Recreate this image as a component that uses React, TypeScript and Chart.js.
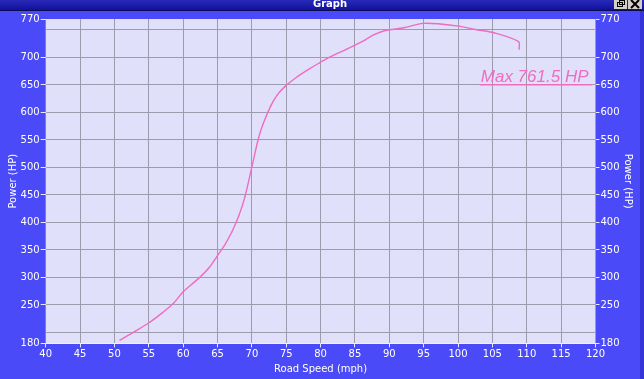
import React, { useEffect, useRef } from "react";
import { Chart, registerables } from "chart.js";

Chart.register(...registerables);

const speedMph = [50.8, 53.0, 55.2, 57.0, 58.6, 60.0, 61.3, 62.5, 63.8, 64.9, 66.0, 67.1, 68.1, 69.0, 70.0, 70.9, 71.6, 72.75, 73.7, 74.8, 76.5, 78.2, 79.8, 81.4, 83.8, 86.5, 87.7, 89.4, 92.1, 94.9, 97.4, 100.1, 102.5, 105.2, 108.8, 108.9];
const powerHp = [186, 202, 219, 236, 253, 274, 288, 301, 318, 338, 358, 383, 412, 447, 501, 550, 578, 612, 632, 647, 664, 678, 690, 701, 715, 732, 741, 749, 754, 762, 761, 757, 751, 745, 729, 715];
const yTicks = [180, 200, 250, 300, 350, 400, 450, 500, 550, 600, 650, 700, 750, 770];
const yHiddenLabels = [200, 750];
const xMin = 40;
const xMax = 120;
const maxLabel = "Max 761.5 HP";

const BLUE = "#4a4af8";
const PLOT_BG = "#e0e0fa";
const GRID = "#9c9cae";
const PINK = "#f06cc0";
const FONT = "DejaVu Sans";

export default function App() {
  const ref = useRef<HTMLCanvasElement | null>(null);

  useEffect(() => {
    document.body.style.margin = "0";
    const canvas = ref.current;
    if (!canvas) return;

    const bgPlugin = {
      id: "bg",
      beforeDraw(chart: any) {
        const { ctx, chartArea, width, height } = chart;
        ctx.save();
        ctx.fillStyle = BLUE;
        ctx.fillRect(0, 0, width, height);
        ctx.fillStyle = "#3434d8";
        ctx.fillRect(width - 4, 0, 4, height);
        const g = ctx.createLinearGradient(0, 0, 0, 10);
        g.addColorStop(0, "#2a2ab8");
        g.addColorStop(1, "#1010a0");
        ctx.fillStyle = g;
        ctx.fillRect(0, 0, width, 10);
        ctx.fillStyle = "#0a0a50";
        ctx.fillRect(0, 10, width, 1);
        ctx.fillStyle = "#ffffff";
        ctx.font = "bold 10px " + FONT;
        ctx.textAlign = "center";
        ctx.textBaseline = "middle";
        ctx.fillText("Graph", 330, 4);
        ctx.fillStyle = "#d4d0c8";
        ctx.fillRect(614, 0, 13, 9);
        ctx.fillRect(628, 0, 14, 9);
        ctx.strokeStyle = "#000";
        ctx.lineWidth = 1;
        ctx.strokeRect(617.5, 2.5, 5, 4);
        ctx.strokeRect(619.5, 0.5, 5, 4);
        ctx.lineWidth = 2;
        ctx.beginPath();
        ctx.moveTo(631, 0);
        ctx.lineTo(639, 8);
        ctx.moveTo(639, 0);
        ctx.lineTo(631, 8);
        ctx.stroke();
        ctx.fillStyle = PLOT_BG;
        ctx.fillRect(chartArea.left, chartArea.top, chartArea.right - chartArea.left, chartArea.bottom - chartArea.top);
        ctx.restore();
      },
    };

    const annoPlugin = {
      id: "anno",
      afterDatasetsDraw(chart: any) {
        const { ctx, chartArea } = chart;
        ctx.save();
        ctx.fillStyle = PINK;
        ctx.font = "italic 17px 'Liberation Sans'";
        ctx.textAlign = "right";
        ctx.textBaseline = "alphabetic";
        const xr = chartArea.right - 7;
        const yb = chartArea.top + 63;
        ctx.fillText(maxLabel, xr, yb);
        const w = ctx.measureText(maxLabel).width;
        ctx.fillRect(xr - w - 1, yb + 2, w + 5, 1.5);
        ctx.restore();
      },
    };

    const setTicks = (scale: any) => {
      scale.ticks = yTicks.map((v) => ({ value: v }));
    };

    const tickFont = { family: FONT, size: 10 };

    const chart = new Chart(canvas, {
      type: "line",
      data: {
        datasets: [
          {
            data: speedMph.map((x, i) => ({ x, y: powerHp[i] })),
            borderColor: PINK,
            backgroundColor: PINK,
            borderWidth: 1.4,
            pointRadius: 0.6,
            pointBorderWidth: 0,
            pointHoverRadius: 0.6,
            tension: 0.3,
            fill: false,
            yAxisID: "y",
          },
        ],
      },
      options: {
        responsive: false,
        animation: false,
        events: [],
        layout: { padding: { top: 19, left: 0, right: 0, bottom: 0 } },
        plugins: {
          legend: { display: false },
          tooltip: { enabled: false },
        },
        scales: {
          x: {
            type: "linear",
            min: xMin,
            max: xMax,
            ticks: {
              stepSize: 5,
              color: "#ffffff",
              font: tickFont,
              padding: 1,
              maxRotation: 0,
            },
            grid: {
              color: (c: any) => (c.tick && (c.tick.value === xMin || c.tick.value === xMax) ? "transparent" : GRID),
              tickColor: "#e8e8ff",
              tickLength: 4,
              lineWidth: 1,
            },
            border: { display: true, color: "#f0f0ff", width: 1 },
            title: {
              display: true,
              text: "Road Speed (mph)",
              color: "#ffffff",
              font: tickFont,
              padding: { top: 0, bottom: 4 },
            },
            afterFit: (s: any) => {
              s.height = 35.6;
            },
          },
          y: {
            type: "linear",
            position: "left",
            min: 180,
            max: 770,
            afterBuildTicks: setTicks,
            ticks: {
              color: "#ffffff",
              font: tickFont,
              padding: 1,
              callback: (v: any) => (yHiddenLabels.includes(Number(v)) ? "" : String(v)),
            },
            grid: {
              color: (c: any) => (c.tick && (c.tick.value === 180 || c.tick.value === 770) ? "transparent" : GRID),
              tickColor: (c: any) => (c.tick && yHiddenLabels.includes(c.tick.value) ? "transparent" : "#e8e8ff"),
              tickLength: 5,
              lineWidth: 1,
            },
            border: { display: false },
            title: {
              display: true,
              text: "Power (HP)",
              color: "#ffffff",
              font: tickFont,
              padding: { top: 7, bottom: 0 },
            },
            afterFit: (s: any) => {
              s.width = 45.7;
            },
          },
          y2: {
            type: "linear",
            position: "right",
            min: 180,
            max: 770,
            afterBuildTicks: setTicks,
            ticks: {
              color: "#ffffff",
              font: tickFont,
              padding: 1,
              callback: (v: any) => (yHiddenLabels.includes(Number(v)) ? "" : String(v)),
            },
            grid: {
              drawOnChartArea: false,
              tickColor: (c: any) => (c.tick && yHiddenLabels.includes(c.tick.value) ? "transparent" : "#e8e8ff"),
              tickLength: 4,
            },
            border: { display: false },
            title: {
              display: true,
              text: "Power (HP)",
              color: "#ffffff",
              font: tickFont,
              padding: { top: 10.5, bottom: 0 },
            },
            afterFit: (s: any) => {
              s.width = 48.5;
            },
          },
        },
      },
      plugins: [bgPlugin, annoPlugin],
    } as any);

    return () => {
      chart.destroy();
    };
  }, []);

  return (
    <div style={{ width: 644, height: 379 }}>
      <canvas ref={ref} width={644} height={379} style={{ display: "block" }} />
    </div>
  );
}
